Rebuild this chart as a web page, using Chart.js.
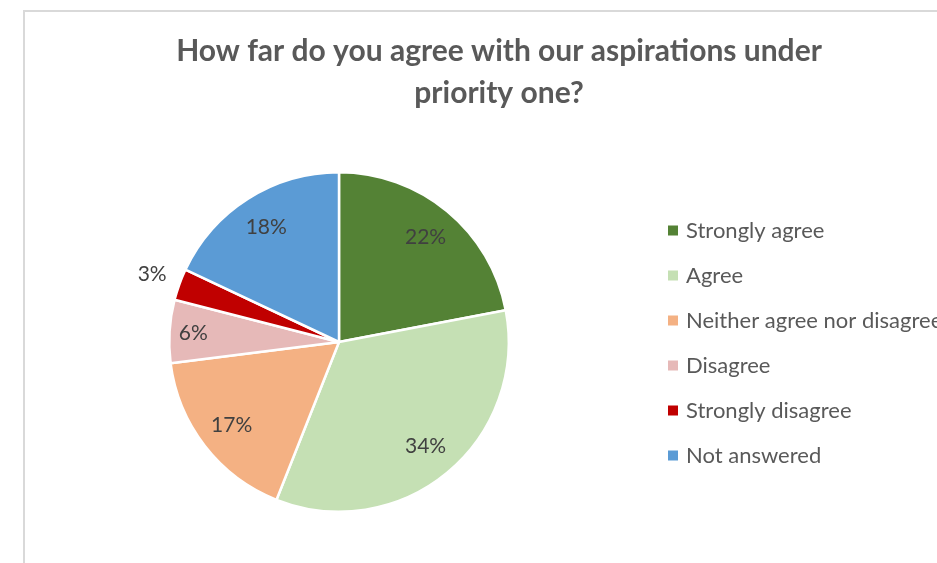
<!DOCTYPE html>
<html>
<head>
<meta charset="utf-8">
<script src="https://cdn.jsdelivr.net/npm/chart.js@4.4.0/dist/chart.umd.min.js"></script>
<style>
  html, body { margin: 0; padding: 0; background: #ffffff; overflow: hidden; }
  #wrap { position: relative; width: 937px; height: 563px; overflow: hidden; }
  #frame { position: absolute; left: 23px; top: 10px; width: 940px; height: 580px;
           border-left: 2px solid #d9d9d9; border-top: 2px solid #d9d9d9; box-sizing: border-box; }
  canvas { position: absolute; left: 0; top: 0; }
</style>
</head>
<body>
<div id="wrap">
  <div id="frame"></div>
  <canvas id="chart" width="937" height="563"></canvas>
</div>
<script>
// Survey responses, in percent
const categories = ['Strongly agree', 'Agree', 'Neither agree nor disagree', 'Disagree', 'Strongly disagree', 'Not answered'];
const shares = [22, 34, 17, 6, 3, 18];
const sliceColors = ['#548235', '#c5e0b4', '#f4b183', '#e6b9b8', '#c00000', '#5b9bd5'];
const titleLines = ['How far do you agree with our aspirations under', 'priority one?'];

const FONT = 'Lato, "Open Sans", "DejaVu Sans", sans-serif';

// Percent labels placed along each slice's mid-angle
const sliceLabels = {
  id: 'sliceLabels',
  afterDatasetsDraw(chart) {
    const ctx = chart.ctx;
    const meta = chart.getDatasetMeta(0);
    ctx.save();
    ctx.font = '21px ' + FONT;
    ctx.fillStyle = '#404040';
    ctx.textAlign = 'center';
    ctx.textBaseline = 'middle';
    meta.data.forEach((arc, i) => {
      const v = chart.data.datasets[0].data[i];
      const p = arc.getProps(['x', 'y', 'startAngle', 'endAngle', 'outerRadius'], true);
      const mid = (p.startAngle + p.endAngle) / 2;
      const frac = v < 5 ? 1.17 : (v < 10 ? 0.86 : 0.8);
      const r = p.outerRadius * frac;
      ctx.fillText(v + '%', p.x + Math.cos(mid) * r, p.y + Math.sin(mid) * r);
    });
    ctx.restore();
  }
};

// Title and right-hand legend
const decorations = {
  id: 'decorations',
  afterDraw(chart) {
    const ctx = chart.ctx;
    ctx.save();
    ctx.fillStyle = '#595959';
    ctx.textAlign = 'center';
    ctx.textBaseline = 'alphabetic';
    ctx.font = 'bold 30px ' + FONT;
    ctx.fillText(titleLines[0], 499, 61);
    ctx.fillText(titleLines[1], 499, 103);

    ctx.textAlign = 'left';
    ctx.textBaseline = 'middle';
    ctx.font = '22px ' + FONT;
    chart.data.labels.forEach((lab, i) => {
      const cy = 230.5 + i * 45;
      ctx.fillStyle = chart.data.datasets[0].backgroundColor[i];
      ctx.fillRect(668, cy - 5, 10, 10);
      ctx.fillStyle = '#595959';
      ctx.fillText(lab, 686, cy);
    });
    ctx.restore();
  }
};

new Chart(document.getElementById('chart'), {
  type: 'pie',
  data: {
    labels: categories,
    datasets: [{
      data: shares,
      backgroundColor: sliceColors,
      borderColor: '#ffffff',
      borderWidth: 2.5
    }]
  },
  options: {
    responsive: false,
    devicePixelRatio: 1,
    animation: false,
    events: [],
    layout: { padding: { left: 168, right: 427, top: 171, bottom: 50 } },
    plugins: {
      legend: { display: false },
      title: { display: false },
      tooltip: { enabled: false }
    }
  },
  plugins: [sliceLabels, decorations]
});
</script>
</body>
</html>
